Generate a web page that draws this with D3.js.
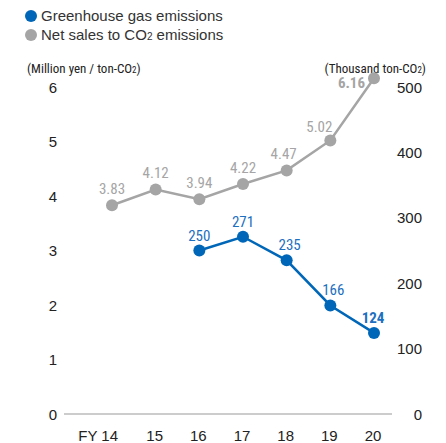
<!DOCTYPE html>
<html>
<head>
<meta charset="utf-8">
<script src="https://cdn.jsdelivr.net/npm/d3@7"></script>
<style>
  body { margin: 0; background: #fff; }
  text { font-family: "Liberation Sans", Arial, sans-serif; }
  .narrow { font-family: "Liberation Sans Narrow", "Roboto Condensed", "Liberation Sans", sans-serif; }
</style>
</head>
<body>
<div id="chart"></div>
<script>
const years = [14, 15, 16, 17, 18, 19, 20];
const salesPerCO2 = [3.83, 4.12, 3.94, 4.22, 4.47, 5.02, 6.16];
const ghgYears = [16, 17, 18, 19, 20];
const ghgEmissions = [250, 271, 235, 166, 124];
const leftTicks = [0, 1, 2, 3, 4, 5, 6];
const rightTicks = [0, 100, 200, 300, 400, 500];

// label nudges (dx, dy) per point
const salesNudge = [[0, 0], [0, 0], [0, 0], [0, 0], [-3, 0], [-11, 3], [-9, 21]];
const ghgNudge = [[0, 0], [0, 0], [3, 0], [3, 0], [-1, 0]];

const W = 446, H = 443;
const blue = '#0067b8', gray = '#a5a5a5';

const svg = d3.select('#chart').append('svg')
  .attr('width', W)
  .attr('height', H);

const x = d3.scaleLinear().domain([14, 20]).range([112, 374]);
const yL = d3.scaleLinear().domain([0, 6]).range([414, 87]);
const yR = d3.scaleLinear().domain([0, 500]).range([414, 87]);

// legend
const legend = [['Greenhouse gas emissions', blue], ['Net sales to CO', gray]];
legend.forEach(([label, c], i) => {
  svg.append('circle').attr('cx', 31).attr('cy', 16 + i * 19).attr('r', 6).attr('fill', c);
  const t = svg.append('text').attr('x', 41).attr('y', 21 + i * 19)
    .attr('font-size', 15).attr('fill', '#333').text(label);
  if (i === 1) {
    t.append('tspan').attr('font-size', 10).text('2');
    t.append('tspan').text(' emissions');
  }
});

// axis titles
const tl = svg.append('text').attr('class', 'narrow').attr('x', 27).attr('y', 73)
  .attr('font-size', 13).attr('fill', '#222').text('(Million yen / ton-CO');
tl.append('tspan').attr('font-size', 9).text('2');
tl.append('tspan').text(')');

const tr = svg.append('text').attr('class', 'narrow').attr('x', 426).attr('y', 73)
  .attr('text-anchor', 'end').attr('font-size', 13).attr('fill', '#222').text('(Thousand ton-CO');
tr.append('tspan').attr('font-size', 9).text('2');
tr.append('tspan').text(')');

// tick labels
svg.append('g').selectAll('text').data(leftTicks).enter().append('text')
  .attr('x', 53).attr('y', d => yL(d) + 5.5)
  .attr('text-anchor', 'middle').attr('font-size', 15).attr('fill', '#222')
  .text(d => d);

svg.append('g').selectAll('text').data(rightTicks).enter().append('text')
  .attr('x', 422).attr('y', d => yR(d) + 5.5)
  .attr('text-anchor', 'end').attr('font-size', 15).attr('fill', '#222')
  .text(d => d);

// baseline
svg.append('line')
  .attr('x1', 64).attr('x2', 392)
  .attr('y1', yL(0)).attr('y2', yL(0))
  .attr('stroke', '#999').attr('stroke-width', 1);

// x labels
svg.append('g').selectAll('text').data(years).enter().append('text')
  .attr('x', d => x(d) + (d === 14 ? 6 : -1)).attr('y', 441)
  .attr('text-anchor', d => d === 14 ? 'end' : 'middle')
  .attr('font-size', 15).attr('fill', '#222')
  .text(d => d === 14 ? 'FY 14' : d);

// sales line
const sales = years.map((yr, i) => ({yr, v: salesPerCO2[i], n: salesNudge[i], last: i === years.length - 1}));
svg.append('path').datum(sales)
  .attr('fill', 'none').attr('stroke', gray).attr('stroke-width', 2.5)
  .attr('d', d3.line().x(d => x(d.yr)).y(d => yL(d.v)));
svg.append('g').selectAll('circle').data(sales).enter().append('circle')
  .attr('cx', d => x(d.yr)).attr('cy', d => yL(d.v)).attr('r', 6).attr('fill', gray);
svg.append('g').selectAll('text').data(sales).enter().append('text')
  .attr('class', 'narrow')
  .attr('x', d => x(d.yr) + d.n[0]).attr('y', d => yL(d.v) - 11 + d.n[1])
  .attr('text-anchor', d => d.last ? 'end' : 'middle')
  .attr('font-size', 15).attr('font-weight', d => d.last ? 'bold' : 'normal')
  .attr('fill', gray).text(d => d.v.toFixed(2));

// ghg line
const ghg = ghgYears.map((yr, i) => ({yr, v: ghgEmissions[i], n: ghgNudge[i], last: i === ghgYears.length - 1}));
svg.append('path').datum(ghg)
  .attr('fill', 'none').attr('stroke', blue).attr('stroke-width', 2.5)
  .attr('d', d3.line().x(d => x(d.yr)).y(d => yR(d.v)));
svg.append('g').selectAll('circle').data(ghg).enter().append('circle')
  .attr('cx', d => x(d.yr)).attr('cy', d => yR(d.v)).attr('r', 6).attr('fill', blue);
svg.append('g').selectAll('text').data(ghg).enter().append('text')
  .attr('class', 'narrow')
  .attr('x', d => x(d.yr) + d.n[0]).attr('y', d => yR(d.v) - 10 + d.n[1])
  .attr('text-anchor', 'middle')
  .attr('font-size', 15).attr('font-weight', d => d.last ? 'bold' : 'normal')
  .attr('fill', '#1d6fc0').text(d => d.v);
</script>
</body>
</html>
